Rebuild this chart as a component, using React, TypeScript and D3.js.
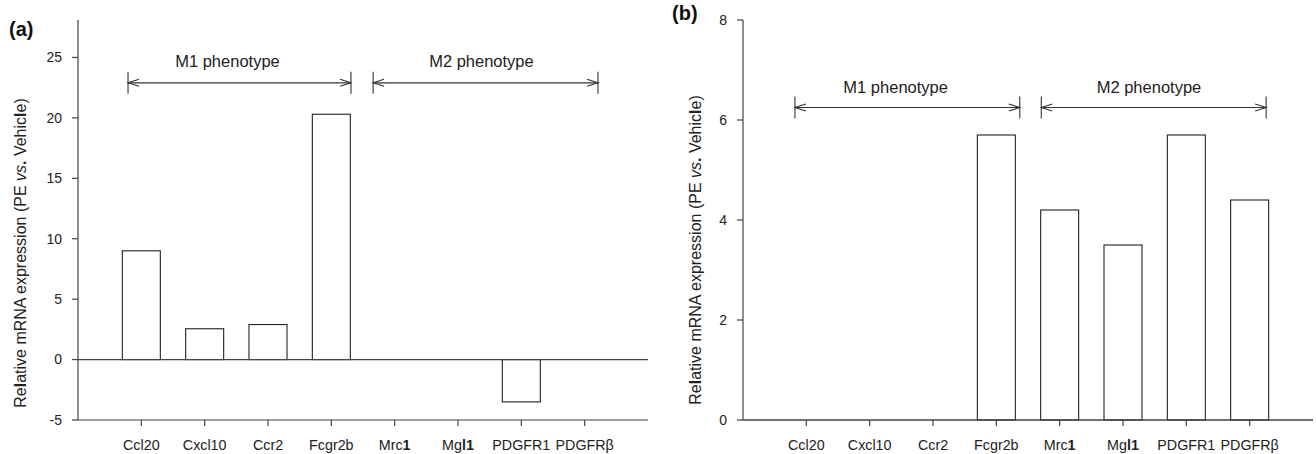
import React from "react";
import * as d3 from "d3";

const categories = ["Ccl20", "Cxcl10", "Ccr2", "Fcgr2b", "Mrc1", "Mgl1", "PDGFR1", "PDGFRβ"];
const valuesA = [9.0, 2.55, 2.9, 20.3, 0, 0, -3.5, 0];
const valuesB = [0, 0, 0, 5.7, 4.2, 3.5, 5.7, 4.4];
const ticksA = [-5, 0, 5, 10, 15, 20, 25];
const ticksB = [0, 2, 4, 6, 8];
const domainA: [number, number] = [-5, 28.1];
const domainB: [number, number] = [0, 8];
// group annotations: from/to/textAt in category-index units, y values in data units
const groupsA = [
  { label: "M1 phenotype", from: -0.21, to: 3.31, textAt: 1.36, y: 22.9, textY: 24.2 },
  { label: "M2 phenotype", from: 3.66, to: 7.21, textAt: 5.37, y: 22.9, textY: 24.2 },
];
const groupsB = [
  { label: "M1 phenotype", from: -0.18, to: 3.37, textAt: 1.41, y: 6.25, textY: 6.55 },
  { label: "M2 phenotype", from: 3.71, to: 7.26, textAt: 5.41, y: 6.25, textY: 6.55 },
];

const FONT = "'Liberation Sans', Arial, Helvetica, sans-serif";
const BAR = "#222";
const AXIS = "#444";

function catLabel(c: string) {
  if (c === "Mrc1") return (<>Mrc<tspan fontWeight="bold">1</tspan></>);
  if (c === "Mgl1") return (<>Mg<tspan fontWeight="bold">l1</tspan></>);
  return c;
}

function Panel({ x0, values, ticks, domain, groups, tag, tagX, tagY, labelX, labelY }: any) {
  const top = 20, bottom = 420, width = 570;
  const x = d3.scalePoint<string>().domain(categories).range([x0, x0 + width]).padding(1);
  const step = x.step();
  const xi = d3.scaleLinear().domain([0, 1]).range([x(categories[0])!, x(categories[0])! + step]);
  const y = d3.scaleLinear().domain(domain).range([bottom, top]);
  const barW = step * 0.6;
  const y0 = y(0);
  const head = 11, hw = 3.5, cap = 11;
  return (
    <g fontFamily={FONT}>
      <text x={tagX} y={tagY} fontSize={20} fontWeight="bold" fill="#111">{tag}</text>
      {values.map((v: number, i: number) =>
        v === 0 ? null : (
          <rect key={i} x={x(categories[i])! - barW / 2} y={Math.min(y(v), y0)} width={barW}
            height={Math.abs(y(v) - y0)} fill="white" stroke={BAR} strokeWidth={1.1} />
        )
      )}
      <line x1={x0} x2={x0 + width} y1={y0} y2={y0} stroke={AXIS} strokeWidth={1.2} />
      <line x1={x0} x2={x0} y1={top} y2={bottom} stroke={AXIS} strokeWidth={1.2} />
      {ticks.map((t: number) => (
        <g key={t}>
          <line x1={x0 - 6} x2={x0} y1={y(t)} y2={y(t)} stroke={AXIS} strokeWidth={1.2} />
          <text x={x0 - 16} y={y(t)} dy="0.35em" textAnchor="end" fontSize={14} fill="#222">{t}</text>
        </g>
      ))}
      <line x1={x0} x2={x0 + width} y1={bottom} y2={bottom} stroke={AXIS} strokeWidth={1.2} />
      {categories.map((c) => (
        <g key={c}>
          <line x1={x(c)} x2={x(c)} y1={bottom} y2={bottom + 6} stroke={AXIS} strokeWidth={1.2} />
          <text x={x(c)} y={450} textAnchor="middle" fontSize={14.3} fill="#222">{catLabel(c)}</text>
        </g>
      ))}
      <text transform={`translate(${labelX},${labelY}) rotate(-90)`} dy="0.35em" textAnchor="middle" fontSize={16} fill="#222">
        Re<tspan fontWeight="bold">l</tspan>ative mRNA expression (PE <tspan fontStyle="italic">vs</tspan><tspan fontWeight="bold">.</tspan> Vehic<tspan fontWeight="bold">l</tspan>e)
      </text>
      {groups.map((g: any) => {
        const a = xi(g.from), b = xi(g.to), yy = y(g.y);
        return (
          <g key={g.label} stroke="#333" strokeWidth={1.1} fill="none">
            <line x1={a} x2={b} y1={yy} y2={yy} />
            <line x1={a} x2={a} y1={yy - cap} y2={yy + cap} />
            <line x1={b} x2={b} y1={yy - cap} y2={yy + cap} />
            <polyline points={`${a + head},${yy - hw} ${a},${yy} ${a + head},${yy + hw}`} />
            <polyline points={`${b - head},${yy - hw} ${b},${yy} ${b - head},${yy + hw}`} />
            <text x={xi(g.textAt)} y={y(g.textY)} textAnchor="middle" fontSize={16.5} fill="#222" stroke="none">{g.label}</text>
          </g>
        );
      })}
    </g>
  );
}

export default function App() {
  return (
    <svg width={1316} height={454} style={{ position: "absolute", left: 0, top: 0, background: "white" }}>
      <rect width={1316} height={454} fill="white" />
      <Panel x0={78} values={valuesA} ticks={ticksA} domain={domainA} groups={groupsA}
        tag="(a)" tagX={9} tagY={36} labelX={20} labelY={253} />
      <Panel x0={743} values={valuesB} ticks={ticksB} domain={domainB} groups={groupsB}
        tag="(b)" tagX={672} tagY={20} labelX={695} labelY={250} />
    </svg>
  );
}
